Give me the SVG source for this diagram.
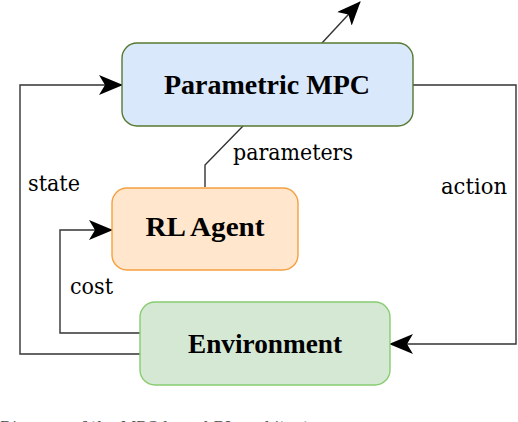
<svg xmlns="http://www.w3.org/2000/svg" width="518" height="422" viewBox="0 0 518 422">
  <style>
    .node-label { font-family: "Liberation Serif", Tinos, "Times New Roman", "DejaVu Serif", serif; font-size: 27px; font-weight: bold; fill: #000; text-anchor: middle; }
    .edge-label { font-family: "DejaVu Serif", "Noto Serif", "Liberation Serif", serif; font-size: 22px; font-weight: normal; fill: #000; }
    .edge { fill: none; stroke: #333; stroke-width: 1.4; }
    .caption { font-family: "DejaVu Serif", "Noto Serif", "Liberation Serif", serif; font-size: 15px; fill: #555; }
  </style>
  <defs>
    <marker id="arrow" viewBox="0 0 24 20" refX="23" refY="10" markerWidth="24" markerHeight="20" markerUnits="userSpaceOnUse" orient="auto">
      <path d="M0,0 L24,10 L0,20 L6,10 Z" fill="#000"/>
    </marker>
  </defs>
  <rect width="518" height="422" fill="#fff"/>

  <g id="connectors">
    <path class="edge" d="M322,43 L360,2" marker-end="url(#arrow)"/>
    <path class="edge" d="M205,187 L205,165 L243,126"/>
    <path class="edge" d="M140,354 L20,354 L20,85 L122,85" marker-end="url(#arrow)"/>
    <path class="edge" d="M140,333 L60,333 L60,230 L112,230" marker-end="url(#arrow)"/>
    <path class="edge" d="M413,85 L516,85 L516,344 L390,344" marker-end="url(#arrow)"/>
    <text class="edge-label" x="233" y="160" textLength="120" lengthAdjust="spacingAndGlyphs">parameters</text>
    <text class="edge-label" x="28" y="191" textLength="52" lengthAdjust="spacingAndGlyphs">state</text>
    <text class="edge-label" x="70" y="294" textLength="43" lengthAdjust="spacingAndGlyphs">cost</text>
    <text class="edge-label" x="441" y="194" textLength="66" lengthAdjust="spacingAndGlyphs">action</text>
  </g>

  <g id="parametric-mpc">
    <rect x="122" y="43" width="291" height="83" rx="15" ry="15" fill="#dae8fc" stroke="#55792f" stroke-width="1.4"/>
    <text class="node-label" x="267" y="94" textLength="206" lengthAdjust="spacingAndGlyphs">Parametric  MPC</text>
  </g>

  <g id="rl-agent">
    <rect x="112" y="188" width="186" height="82" rx="15" ry="15" fill="#ffe6cc" stroke="#f5a040" stroke-width="1.4"/>
    <text class="node-label" x="205" y="236" textLength="119" lengthAdjust="spacingAndGlyphs">RL  Agent</text>
  </g>

  <g id="environment">
    <rect x="140" y="302" width="250" height="83" rx="15" ry="15" fill="#d5e8d4" stroke="#88cc70" stroke-width="1.4"/>
    <text class="node-label" x="265" y="353" textLength="154" lengthAdjust="spacingAndGlyphs">Environment</text>
  </g>

  <text class="caption" x="0" y="432" textLength="340" lengthAdjust="spacingAndGlyphs">Diagram of the MPC-based RL architecture.</text>
</svg>
